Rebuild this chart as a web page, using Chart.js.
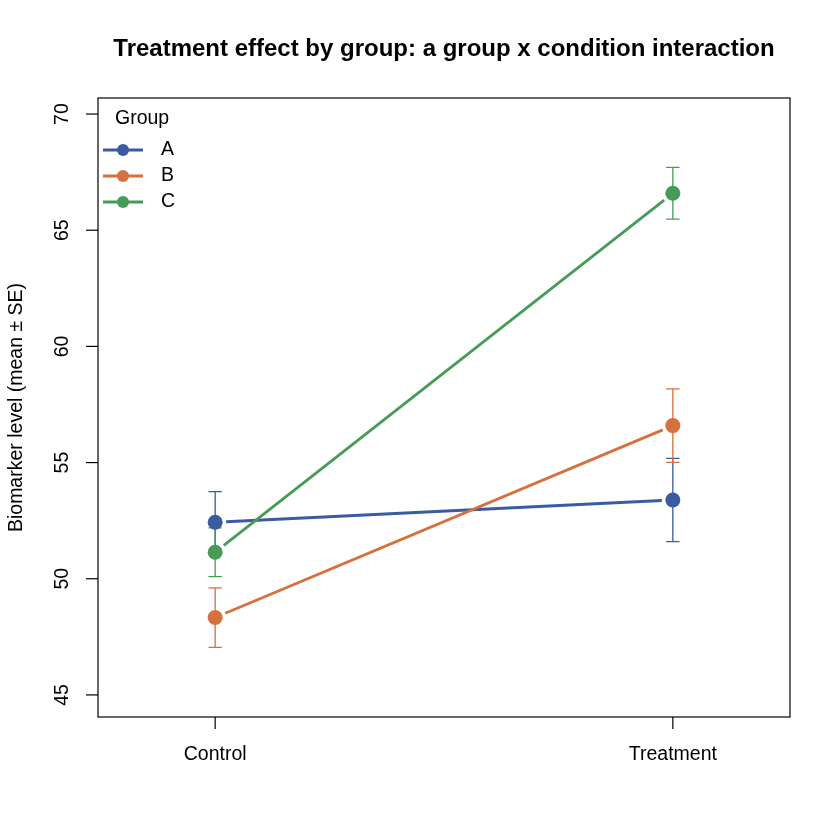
<!DOCTYPE html>
<html>
<head>
<meta charset="utf-8">
<script src="https://cdn.jsdelivr.net/npm/chart.js@4.4.1/dist/chart.umd.min.js"></script>
<style>
  html, body { margin: 0; padding: 0; background: #fff; }
  #wrap { width: 840px; height: 840px; }
</style>
</head>
<body>
<div id="wrap"><canvas id="chart" width="840" height="840"></canvas></div>
<script>
// Datos
const conditions = ["Control", "Treatment"];
const groups = ["A", "B", "C"];
const meanA = [52.43, 53.39];
const seA = [1.32, 1.79];
const meanB = [48.33, 56.59];
const seB = [1.28, 1.58];
const meanC = [51.14, 66.59];
const seC = [1.05, 1.11];
const yTicks = [45, 50, 55, 60, 65, 70];

const colors = ["#3A5BA0", "#D6703F", "#469B56"];
const means = [meanA, meanB, meanC];
const ses = [seA, seB, seC];
const FONT = '"Liberation Sans", Arial, Helvetica, sans-serif';

const datasets = groups.map((g, i) => ({
  label: g,
  data: means[i].map((m, j) => ({ x: j + 1, y: m })),
  se: ses[i],
  showLine: false,
  pointRadius: 7.5,
  pointHoverRadius: 7.5,
  pointBorderWidth: 0,
  pointBackgroundColor: colors[i],
  borderColor: colors[i]
}));

// Líneas con hueco (tipo "b") y barras de error
const marks = {
  id: "marks",
  beforeDatasetsDraw(chart) {
    const ctx = chart.ctx;
    const xs = chart.scales.x, ys = chart.scales.y;
    const gap = 11;
    chart.data.datasets.forEach(ds => {
      const pts = ds.data.map(p => [xs.getPixelForValue(p.x), ys.getPixelForValue(p.y)]);
      ctx.save();
      ctx.strokeStyle = ds.borderColor;
      // barras de error
      ctx.lineWidth = 1.3;
      ds.data.forEach((p, j) => {
        const x = xs.getPixelForValue(p.x);
        const yt = ys.getPixelForValue(p.y + ds.se[j]);
        const yb = ys.getPixelForValue(p.y - ds.se[j]);
        ctx.beginPath();
        ctx.moveTo(x, yt); ctx.lineTo(x, yb);
        ctx.moveTo(x - 6.7, yt); ctx.lineTo(x + 6.7, yt);
        ctx.moveTo(x - 6.7, yb); ctx.lineTo(x + 6.7, yb);
        ctx.stroke();
      });
      // segmentos
      ctx.lineWidth = 2.8;
      for (let j = 0; j < pts.length - 1; j++) {
        const [x0, y0] = pts[j], [x1, y1] = pts[j + 1];
        const len = Math.hypot(x1 - x0, y1 - y0);
        const ux = (x1 - x0) / len, uy = (y1 - y0) / len;
        ctx.beginPath();
        ctx.moveTo(x0 + ux * gap, y0 + uy * gap);
        ctx.lineTo(x1 - ux * gap, y1 - uy * gap);
        ctx.stroke();
      }
      ctx.restore();
    });
  },
  afterDraw(chart) {
    const ctx = chart.ctx;
    const a = chart.chartArea;
    const xs = chart.scales.x, ys = chart.scales.y;
    ctx.save();
    ctx.strokeStyle = "#000";
    ctx.fillStyle = "#000";
    ctx.lineWidth = 1.2;
    ctx.strokeRect(a.left, a.top, a.right - a.left, a.bottom - a.top);

    // eje x
    ctx.font = "19.5px " + FONT;
    ctx.textAlign = "center";
    ctx.textBaseline = "middle";
    conditions.forEach((c, j) => {
      const x = xs.getPixelForValue(j + 1);
      ctx.beginPath();
      ctx.moveTo(x, a.bottom); ctx.lineTo(x, a.bottom + 12);
      ctx.stroke();
      ctx.fillText(c, x, 755);
    });

    // eje y
    yTicks.forEach(t => {
      const y = ys.getPixelForValue(t);
      ctx.beginPath();
      ctx.moveTo(a.left - 12, y); ctx.lineTo(a.left, y);
      ctx.stroke();
      ctx.save();
      ctx.translate(63, y);
      ctx.rotate(-Math.PI / 2);
      ctx.fillText(String(t), 0, 0);
      ctx.restore();
    });
    ctx.save();
    ctx.translate(17, (a.top + a.bottom) / 2);
    ctx.rotate(-Math.PI / 2);
    ctx.fillText("Biomarker level (mean ± SE)", 0, 0);
    ctx.restore();

    // título
    ctx.font = "bold 24px " + FONT;
    ctx.fillText("Treatment effect by group: a group x condition interaction", (a.left + a.right) / 2, 49);

    // leyenda
    ctx.font = "19.5px " + FONT;
    ctx.textAlign = "left";
    ctx.fillText("Group", 115, 119);
    groups.forEach((g, i) => {
      const y = 150 + i * 26;
      ctx.strokeStyle = colors[i];
      ctx.fillStyle = colors[i];
      ctx.lineWidth = 2.8;
      ctx.beginPath();
      ctx.moveTo(103, y); ctx.lineTo(143, y);
      ctx.stroke();
      ctx.beginPath();
      ctx.arc(123, y, 6, 0, Math.PI * 2);
      ctx.fill();
      ctx.fillStyle = "#000";
      ctx.fillText(g, 161, y);
    });
    ctx.restore();
  }
};

new Chart(document.getElementById("chart"), {
  type: "line",
  data: { datasets },
  options: {
    responsive: false,
    animation: false,
    devicePixelRatio: 1,
    layout: { padding: { top: 98, right: 50, bottom: 0, left: 0 } },
    plugins: { legend: { display: false }, title: { display: false }, tooltip: { enabled: false } },
    scales: {
      x: {
        type: "linear",
        min: 0.744,
        max: 2.256,
        grid: { display: false },
        border: { display: false },
        ticks: { display: false },
        afterFit(s) { s.height = 123; }
      },
      y: {
        type: "linear",
        min: 44.05,
        max: 70.69,
        grid: { display: false },
        border: { display: false },
        ticks: { display: false },
        afterFit(s) { s.width = 98; }
      }
    }
  },
  plugins: [marks]
});
</script>
</body>
</html>
